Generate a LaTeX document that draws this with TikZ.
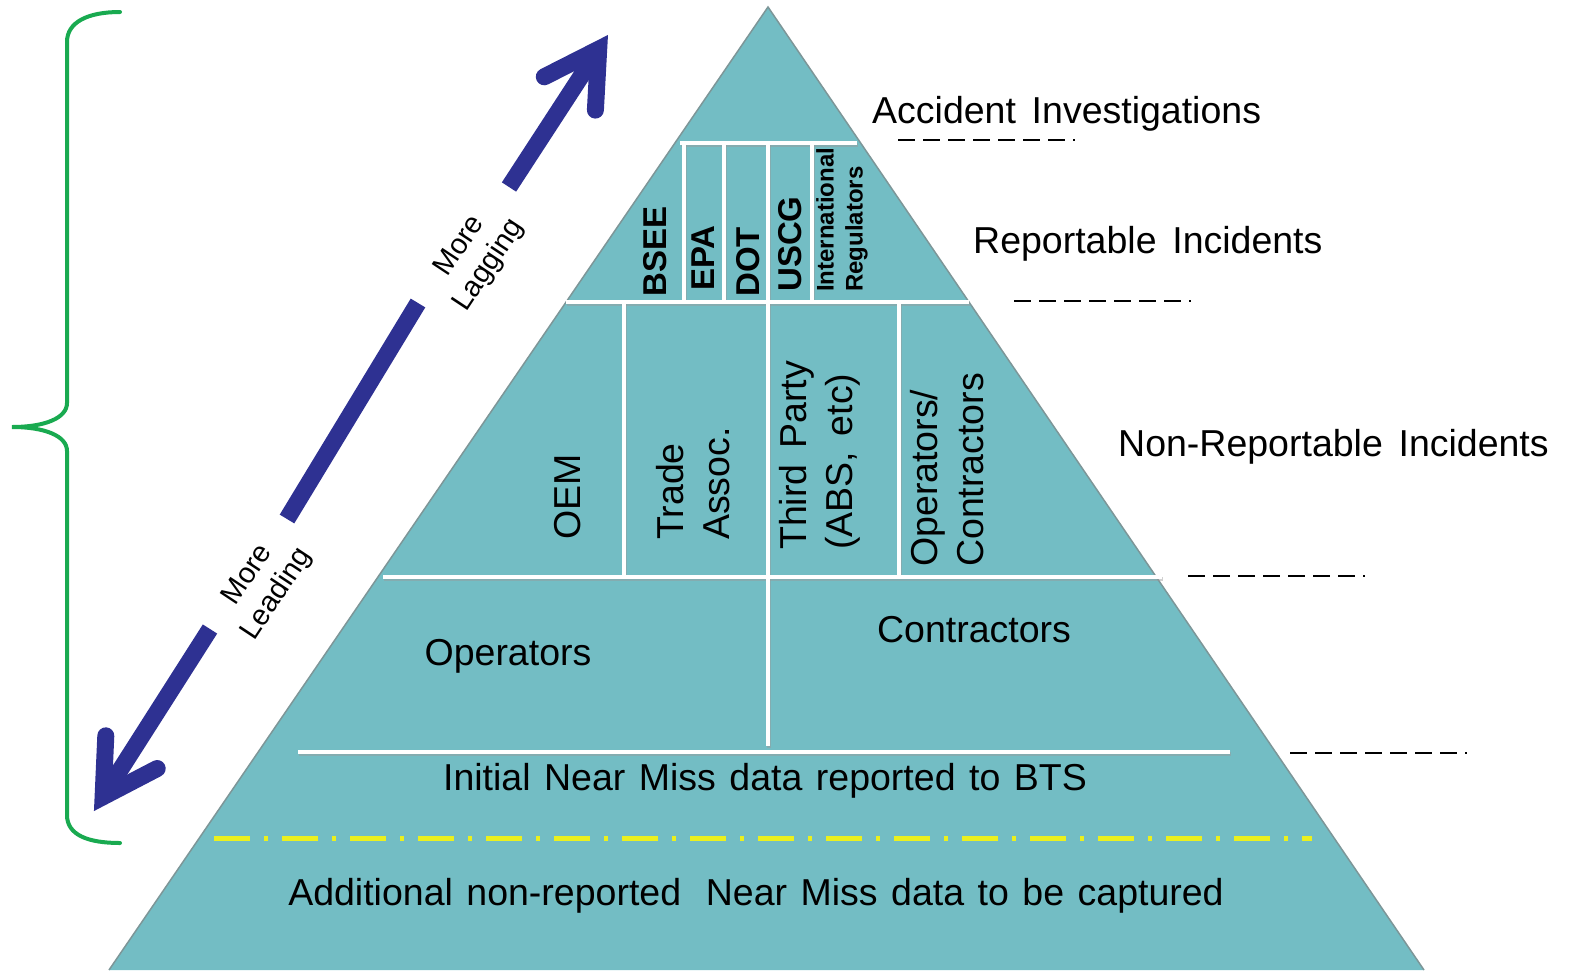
\documentclass[tikz,border=0pt]{standalone}
\usepackage{fontspec}
\setmainfont{Liberation Sans}
\definecolor{pyr}{RGB}{115,189,196}
\definecolor{pyredge}{RGB}{125,150,152}
\definecolor{arrowblue}{RGB}{46,49,146}
\definecolor{bracegreen}{RGB}{25,170,80}
\definecolor{dashyellow}{RGB}{235,240,30}
\begin{document}
\begin{tikzpicture}[x=1pt,y=-1pt,
  wline/.style={white,line width=3.5pt},
  wshadow/.style={black!40,line width=3.5pt,opacity=.45},
  lab/.style={inner sep=0pt,font={\fontsize{37.5}{46}\selectfont\spaceskip=.42em plus .1em\relax}},
  tightlab/.style={inner sep=0pt,font={\fontsize{37.5}{46}\selectfont\spaceskip=.36em plus .1em\relax}},
  vlab/.style={lab,rotate=90,anchor=west,align=left},
  reg/.style={inner sep=0pt,rotate=90,anchor=west,font={\bfseries\fontsize{33}{38}\selectfont}},
  smallreg/.style={reg,align=left,font={\bfseries\fontsize{24}{29}\selectfont}},
  arrlab/.style={inner sep=0pt,rotate=56.5,align=center,font={\fontsize{29}{35}\selectfont}},
  blackdash/.style={black,line width=2.5pt,dash pattern=on 17pt off 8pt},
  yellowdash/.style={dashyellow,line width=5pt,dash pattern=on 36pt off 14pt on 4pt off 14pt},
  arrowline/.style={arrowblue,line width=17pt},
  arrowhead/.style={arrowline,line cap=round,line join=miter},
  bracestyle/.style={bracegreen,line width=4pt,line cap=round}
]
\useasboundingbox (0,0) rectangle (1572,972);

% brace
\draw[bracestyle] (120,12) .. controls (88,12) and (67,22) .. (67,42) -- (67,403)
  .. controls (67,418) and (45,427) .. (12,427)
  .. controls (45,427) and (67,436) .. (67,451) -- (67,815)
  .. controls (67,835) and (88,843) .. (120,843);

% arrow (split by labels)
\coordinate (upS) at (509,187);
\coordinate (upP) at (598.7,49.2);
\coordinate (upA) at (544.3,76.8);
\coordinate (upB) at (595.4,110.1);
\draw[arrowline] (upS) -- (upP);
\draw[arrowhead] (upA) -- (upP) -- (upB);
\coordinate (midS) at (418,303);
\coordinate (midE) at (287,519);
\draw[arrowline] (midS) -- (midE);
\coordinate (loS) at (210,629);
\coordinate (loP) at (103.1,796.7);
\coordinate (loA) at (157.2,768.5);
\coordinate (loB) at (105.8,735.8);
\draw[arrowline] (loS) -- (loP);
\draw[arrowhead] (loA) -- (loP) -- (loB);

\node[arrlab] (lag) at (475,256) {More\\Lagging};
\node[arrlab] (lead) at (263,585) {More\\Leading};

% pyramid
\coordinate (apex) at (768,7);
\coordinate (br) at (1424,970);
\coordinate (bl) at (109,970);
\fill[pyr] (apex) -- (br) -- (bl) -- cycle;
\draw[pyredge,line width=1.5pt,line join=miter] (bl) -- (apex) -- (br);

% white dividers (shadow then line)
\foreach \a/\b in {{680,143}/{857,143},{684,143}/{684,302},{724,143}/{724,302},
  {768,143}/{768,746},{812,143}/{812,302},{566,302}/{969,302},
  {624,302}/{624,577},{899,302}/{899,577},{383,577}/{1162,577},{298,752}/{1230,752}}{
  \draw[wshadow] ([shift={(1,2)}]\a) -- ([shift={(1,2)}]\b);
}
\foreach \a/\b in {{680,143}/{857,143},{684,143}/{684,302},{724,143}/{724,302},
  {768,143}/{768,746},{812,143}/{812,302},{566,302}/{969,302},
  {624,302}/{624,577},{899,302}/{899,577},{383,577}/{1162,577},{298,752}/{1230,752}}{
  \draw[wline] (\a) -- (\b);
}

% yellow dash-dot line
\draw[yellowdash] (214,838) -- (1312,838);

% regulators
\node[reg] (bsee) at (655,297) {BSEE};
\node[reg] (epa) at (703,291) {EPA};
\node[reg] (dot) at (748,297) {DOT};
\node[reg] (uscg) at (790,292) {USCG};
\node[smallreg] (intl) at (842,292) {International\\Regulators};

% middle tier
\node[vlab] (oem) at (568,540) {OEM};
\node[vlab] (trade) at (693,540) {Trade\\Assoc.};
\node[vlab] (third) at (820,550) {Third Party\\(ABS, etc)};
\node[vlab] (opcon) at (947,567) {Operators/\\Contractors};

% lower tiers
\node[lab,anchor=base] (ops) at (508,665) {Operators};
\node[lab,anchor=base] (cons) at (974,642) {Contractors};
\node[tightlab,anchor=base] (init) at (765,790) {Initial Near Miss data reported to BTS};
\node[tightlab,anchor=base] (add) at (756,905) {Additional non-reported\hspace{.3em} Near Miss data to be captured};

% right labels
\node[lab,anchor=base west] (acc) at (872,123) {Accident Investigations};
\node[lab,anchor=base west] (rep) at (973,253) {Reportable Incidents};
\node[lab,anchor=base west] (nonrep) at (1118,456) {Non-Reportable Incidents};

\draw[blackdash] (898,140) -- (1075,140);
\draw[blackdash] (1014,301) -- (1191,301);
\draw[blackdash] (1188,576) -- (1365,576);
\draw[blackdash] (1290,753) -- (1467,753);
\end{tikzpicture}
\end{document}
